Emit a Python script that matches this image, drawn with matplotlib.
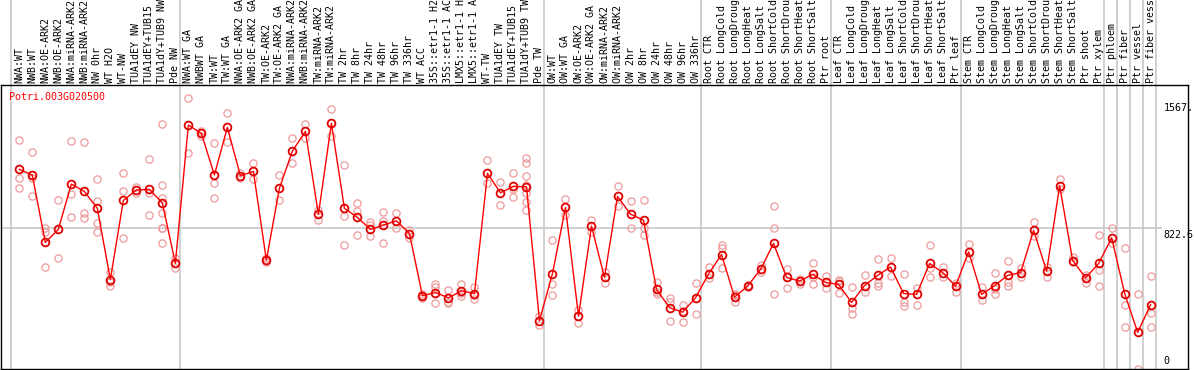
import matplotlib.pyplot as plt
import matplotlib.transforms as mtransforms

geneName = "Potri.003G020500"

sampleLabels = [
    "NWA:WT", "NWB:WT", "NWA:OE-ARK2", "NWB:OE-ARK2", "NWA:miRNA-ARK2", "NWB:miRNA-ARK2",
    "NW 0hr", "WT H2O", "WT-NW", "TUA1dEY NW", "TUA1dEY+TUB15 NW", "TUA1dY+TUB9 NW", "Pde NW",
    "NWA:WT GA", "NWBWT GA", "TW:WT", "TW:WT GA", "NWA:OE-ARK2 GA", "NWB:OE-ARK2 GA",
    "TW:OE-ARK2", "TW:OE-ARK2 GA", "NWA:miRNA-ARK2 GA", "NWB:miRNA-ARK2 GA", "TW:miRNA-ARK2",
    "TW:miRNA-ARK2 GA", "TW 2hr", "TW 8hr", "TW 24hr", "TW 48hr", "TW 96hr", "TW 336hr", "WT ACC",
    "35S::etr1-1 H2O", "35S::etr1-1 ACC", "LMX5::etr1-1 H2O", "LMX5::etr1-1 ACC", "WT-TW",
    "TUA1dEY TW", "TUA1dEY+TUB15 TW", "TUA1dY+TUB9 TW", "Pde TW",
    "OW:WT", "OW:WT GA", "OW:OE-ARK2", "OW:OE-ARK2 GA", "OW:miRNA-ARK2", "OW:miRNA-ARK2 GA",
    "OW 2hr", "OW 8hr", "OW 24hr", "OW 48hr", "OW 96hr", "OW 336hr",
    "Root CTR", "Root LongCold", "Root LongDrought", "Root LongHeat", "Root LongSalt",
    "Root ShortCold", "Root ShortDrought", "Root ShortHeat", "Root ShortSalt", "Ptr root",
    "Leaf CTR", "Leaf LongCold", "Leaf LongDrought", "Leaf LongHeat", "Leaf LongSalt",
    "Leaf ShortCold", "Leaf ShortDrought", "Leaf ShortHeat", "Leaf ShortSalt", "Ptr leaf",
    "Stem CTR", "Stem LongCold", "Stem LongDrought", "Stem LongHeat", "Stem LongSalt",
    "Stem ShortCold", "Stem ShortDrought", "Stem ShortHeat", "Stem ShortSalt", "Ptr shoot",
    "Ptr xylem", "Ptr phloem", "Ptr fiber", "Ptr vessel", "Ptr fiber vessel",
]

meanValues = [
    1167, 1133, 740, 816, 1081, 1038, 939, 523, 985, 1046, 1050, 970, 617,
    1426, 1377, 1134, 1412, 1130, 1155, 636, 1056, 1274, 1389, 904, 1436, 939, 886, 816, 841,
    866, 792, 428, 447, 416, 457, 441, 1143, 1030, 1067, 1065, 283,
    558, 944, 309, 835, 535, 1009, 905, 870, 465, 359, 332, 416,
    556, 669, 420, 484, 582, 734, 535, 514, 553, 506,
    494, 389, 488, 547, 596, 441, 436, 617, 564, 484,
    685, 436, 488, 547, 564, 810, 572, 1071, 634, 533, 617,
    767, 441, 214, 377,
]

replicateValues = [
    [1336, 1114, 1056], [1266, 1114, 1009], [826, 802, 596], [985, 648], [1332, 1020, 886],
    [1325, 913, 880], [1108, 981, 855, 800], [568, 510, 488], [1143, 1042, 767], [1065, 1026],
    [1227, 1030, 898], [1430, 1075, 997, 912, 826, 826, 734], [650, 588],
    [1582, 1260], [1391, 1362], [1319, 1085, 997], [1494, 1325], [1143, 1114], [1202, 1108],
    [646, 628], [1134, 985], [1348, 1202], [1430, 1348], [931, 872], [1520, 1360],
    [1192, 894, 724], [970, 923, 781], [857, 841, 775], [915, 864, 734], [911, 826], [812, 767],
    [441, 428, 415], [494, 478, 383], [461, 393, 383], [494, 443, 428], [480, 432, 412],
    [1221, 1085], [1091, 958], [1143, 1052, 1005], [1235, 1202, 1130, 1075, 1026, 976, 927],
    [309, 260],
    [753, 498, 432], [991, 900], [344, 270], [870, 802], [568, 504], [1069, 952], [981, 827],
    [985, 826, 786], [506, 452, 439], [416, 393, 283], [377, 340, 272], [500, 324],
    [597, 529], [724, 705, 588], [441, 430, 389], [490, 478], [607, 568], [952, 827, 436],
    [584, 471], [525, 498], [621, 539, 498], [543, 471],
    [523, 514, 447], [477, 354, 324], [547, 451], [642, 500, 488], [648, 541], [553, 393, 370],
    [475, 377], [722, 592, 535], [597, 535], [502, 451],
    [730, 646], [478, 402], [564, 465, 436], [631, 510, 486], [592, 539], [859, 779],
    [597, 537], [1108, 1052], [654, 623], [549, 500], [786, 578, 488],
    [827, 734], [705, 377, 245], [436, 0], [545, 329, 243],
]

# index of the last sample in each group (-1 = left edge)
groupEnds = [-1, 12, 40, 52, 62, 72, 83, 84, 85, 86, 87]

yTickValues = [1567, 822.6, 0]
yTickLabels = ["1567.", "822.6", "0"]

plt.rcParams['font.family'] = ['DejaVu Sans Mono']
fontSize = 7.2

W, H = 1194, 370
fig = plt.figure(figsize=(W / 100, H / 100), dpi=100)
ax = fig.add_axes([1 / W, 1 / H, 1187 / W, 284 / H])

x = list(range(len(meanValues)))

# replicates
for i, reps in enumerate(replicateValues):
    ax.plot([i] * len(reps), reps, linestyle='none', marker='o', markersize=5.2,
            markerfacecolor='none', markeredgecolor='#ee9a9a', markeredgewidth=0.9, zorder=2)

# mean line + markers
ax.plot(x, meanValues, color='red', linewidth=1.0, zorder=3)
ax.plot(x, meanValues, linestyle='none', marker='o', markersize=5.6,
        markerfacecolor='none', markeredgecolor='#e00000', markeredgewidth=1.3, zorder=4)

ax.set_xlim(-1.408, 89.87)
ax.set_ylim(0, 1660)
ax.set_xticks([])
ax.set_yticks([])
for side in ax.spines.values():
    side.set_color('black')
    side.set_linewidth(1.0)

# group separators run up through the label area
for g in groupEnds:
    ax.axvline(g + 0.385, ymin=0, ymax=1.31, color='#c4c4c4', linewidth=1.1,
               clip_on=False, zorder=1)
ax.axhline(822.6, xmin=0, xmax=0.977, color='#c4c4c4', linewidth=1.1, zorder=1)

labelTrans = mtransforms.blended_transform_factory(ax.transData, ax.transAxes)
for i, lab in enumerate(sampleLabels):
    ax.text(i, 1.006, lab, rotation=90, ha='center', va='bottom', fontsize=fontSize,
            transform=labelTrans, clip_on=False)

ax.text(0.007, 0.957, geneName, color='red', fontsize=fontSize, ha='left', va='center',
        transform=ax.transAxes)

for val, lab in zip(yTickValues, yTickLabels):
    if val == 0:
        ax.text(87.98, 18, lab, fontsize=fontSize, ha='left', va='bottom')
    else:
        ax.text(87.98, val - 10, lab, fontsize=fontSize, ha='left', va='top')

fig.savefig("out.png", dpi=100)
